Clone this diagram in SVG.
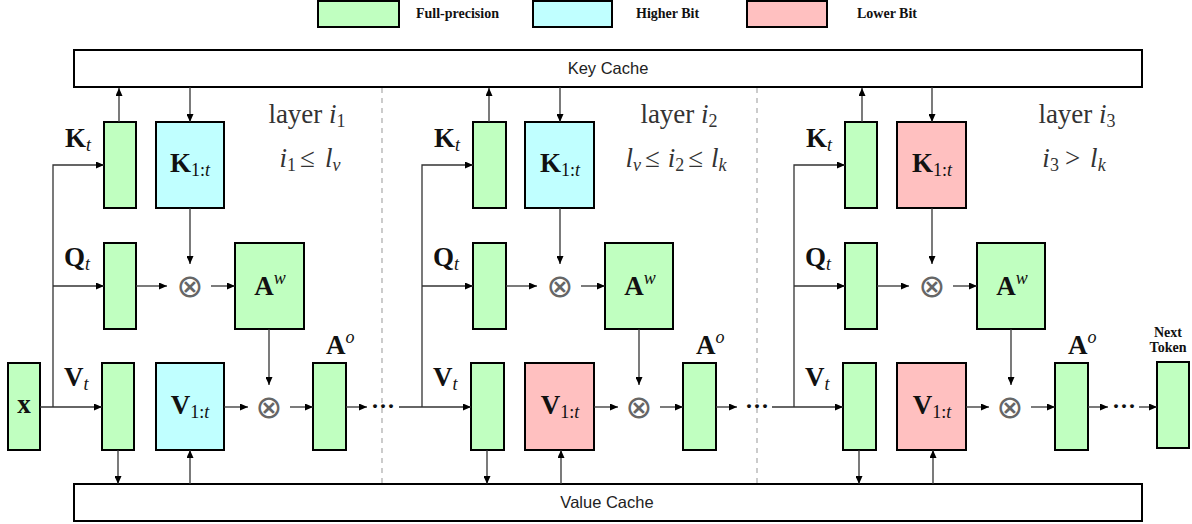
<svg xmlns="http://www.w3.org/2000/svg" width="1192" height="524" viewBox="0 0 1192 524">
<style>
.g{fill:#c0ffc0;stroke:#000;stroke-width:2}
.b{fill:#c0ffff;stroke:#000;stroke-width:2}
.r{fill:#ffc0c0;stroke:#000;stroke-width:2}
.cache{fill:#fff;stroke:#000;stroke-width:2}
.c line,.c polyline{stroke:#333;stroke-width:1.3;fill:none}
.a{marker-end:url(#ah)}
.dash{stroke:#aaa;stroke-width:1.2;stroke-dasharray:5,5}
.leg{font-family:"Liberation Serif",serif;font-weight:bold;font-size:14px;fill:#111}
.ct{font-family:"Liberation Sans",Arial,sans-serif;font-size:16.5px;fill:#222}
.m{font-family:"Liberation Serif",serif;font-weight:bold;font-size:27px;fill:#111}
.mi{font-family:"Liberation Serif",serif;font-style:italic;font-weight:normal}
.mr{font-family:"Liberation Serif",serif;font-style:normal;font-weight:normal}
.s{font-size:18px}
.lt{font-family:"Liberation Serif",serif;font-size:27px;fill:#333}
.lt .s{font-size:18px}
.op{font-family:"DejaVu Sans",sans-serif;font-size:32px;fill:#666}
.dots{font-family:"Liberation Serif",serif;font-weight:bold;font-size:24px;fill:#111}
.nt{font-family:"Liberation Serif",serif;font-weight:bold;font-size:14px;fill:#111}
</style>
<defs>
<marker id="ah" markerWidth="8" markerHeight="7" refX="8" refY="3.5" orient="auto" markerUnits="userSpaceOnUse"><path d="M0,0 L8,3.5 L0,7 z" fill="#000"/></marker>
</defs>
<rect width="1192" height="524" fill="#fff"/>

<g id="legend">
<rect class="g" x="318" y="1" width="81" height="26"/>
<text class="leg" x="416" y="18">Full-precision</text>
<rect class="b" x="533" y="1" width="79" height="26"/>
<text class="leg" x="636" y="18">Higher Bit</text>
<rect class="r" x="747" y="1" width="80" height="26"/>
<text class="leg" x="857" y="18">Lower Bit</text>
</g>

<line class="dash" x1="382" y1="88" x2="382" y2="483"/>
<line class="dash" x1="757" y1="88" x2="757" y2="483"/>

<g id="key-cache">
<rect class="cache" x="74" y="50" width="1068" height="37"/>
<text class="ct" x="608" y="74" text-anchor="middle">Key Cache</text>
</g>
<g id="value-cache">
<rect class="cache" x="74" y="484" width="1068" height="37"/>
<text class="ct" x="607" y="508" text-anchor="middle">Value Cache</text>
</g>

<g id="x">
<rect class="g" x="8" y="363" width="32" height="87"/>
<text class="m" x="24" y="413" text-anchor="middle">x</text>
</g>

<!-- layer 1 -->
<g id="l1-label">
<text class="lt" x="307" y="123" text-anchor="middle">layer <tspan class="mi">i</tspan><tspan class="s" dy="4">1</tspan></text>
<text class="lt" x="310" y="167" text-anchor="middle"><tspan class="mi">i</tspan><tspan class="s" dy="4">1</tspan><tspan dy="-4" dx="4">≤</tspan><tspan class="mi" dx="10">l</tspan><tspan class="mi s" dy="4">v</tspan></text>
</g>
<g id="l1-kt">
<rect class="g" x="104" y="122" width="32" height="86"/>
<text class="m" x="65" y="147">K<tspan class="mi s" dy="4">t</tspan></text>
</g>
<g id="l1-k1t">
<rect class="b" x="156" y="122" width="68" height="86"/>
<text class="m" x="190" y="172" text-anchor="middle">K<tspan class="mr s" dy="4">1:</tspan><tspan class="mi s">t</tspan></text>
</g>
<g id="l1-qt">
<rect class="g" x="104" y="243" width="32" height="86"/>
<text class="m" x="64" y="266">Q<tspan class="mi s" dy="4">t</tspan></text>
</g>
<g id="l1-mul1"><text class="op" x="190" y="297" text-anchor="middle">⊗</text></g>
<g id="l1-aw">
<rect class="g" x="235" y="243" width="69" height="86"/>
<text class="m" x="270" y="295" text-anchor="middle">A<tspan class="mi s" dy="-11">w</tspan></text>
</g>
<g id="l1-vt">
<rect class="g" x="102" y="363" width="32" height="87"/>
<text class="m" x="64" y="386">V<tspan class="mi s" dy="4">t</tspan></text>
</g>
<g id="l1-v1t">
<rect class="b" x="156" y="363" width="68" height="87"/>
<text class="m" x="190" y="414" text-anchor="middle">V<tspan class="mr s" dy="4">1:</tspan><tspan class="mi s">t</tspan></text>
</g>
<g id="l1-mul2"><text class="op" x="269" y="418" text-anchor="middle">⊗</text></g>
<g id="l1-ao">
<rect class="g" x="313" y="363" width="33" height="87"/>
<text class="m" x="326" y="354">A<tspan class="mi s" dy="-11">o</tspan></text>
</g>
<text class="dots" x="383" y="414" text-anchor="middle">···</text>

<!-- layer 2 -->
<g id="l2-label">
<text class="lt" x="679" y="123" text-anchor="middle">layer <tspan class="mi">i</tspan><tspan class="s" dy="4">2</tspan></text>
<text class="lt" x="676" y="167" text-anchor="middle"><tspan class="mi">l</tspan><tspan class="mi s" dy="4">v</tspan><tspan dy="-4" dx="4">≤</tspan><tspan class="mi" dx="8">i</tspan><tspan class="s" dy="4">2</tspan><tspan dy="-4" dx="4">≤</tspan><tspan class="mi" dx="8">l</tspan><tspan class="mi s" dy="4">k</tspan></text>
</g>
<g id="l2-kt">
<rect class="g" x="473" y="122" width="33" height="86"/>
<text class="m" x="434" y="147">K<tspan class="mi s" dy="4">t</tspan></text>
</g>
<g id="l2-k1t">
<rect class="b" x="525" y="122" width="69" height="86"/>
<text class="m" x="560" y="172" text-anchor="middle">K<tspan class="mr s" dy="4">1:</tspan><tspan class="mi s">t</tspan></text>
</g>
<g id="l2-qt">
<rect class="g" x="473" y="243" width="33" height="86"/>
<text class="m" x="433" y="266">Q<tspan class="mi s" dy="4">t</tspan></text>
</g>
<g id="l2-mul1"><text class="op" x="560" y="297" text-anchor="middle">⊗</text></g>
<g id="l2-aw">
<rect class="g" x="605" y="243" width="68" height="86"/>
<text class="m" x="640" y="295" text-anchor="middle">A<tspan class="mi s" dy="-11">w</tspan></text>
</g>
<g id="l2-vt">
<rect class="g" x="471" y="363" width="33" height="87"/>
<text class="m" x="433" y="386">V<tspan class="mi s" dy="4">t</tspan></text>
</g>
<g id="l2-v1t">
<rect class="r" x="525" y="363" width="69" height="87"/>
<text class="m" x="560" y="414" text-anchor="middle">V<tspan class="mr s" dy="4">1:</tspan><tspan class="mi s">t</tspan></text>
</g>
<g id="l2-mul2"><text class="op" x="639" y="418" text-anchor="middle">⊗</text></g>
<g id="l2-ao">
<rect class="g" x="683" y="363" width="33" height="87"/>
<text class="m" x="696" y="354">A<tspan class="mi s" dy="-11">o</tspan></text>
</g>
<text class="dots" x="757" y="414" text-anchor="middle">···</text>

<!-- layer 3 -->
<g id="l3-label">
<text class="lt" x="1077" y="123" text-anchor="middle">layer <tspan class="mi">i</tspan><tspan class="s" dy="4">3</tspan></text>
<text class="lt" x="1074" y="167" text-anchor="middle"><tspan class="mi">i</tspan><tspan class="s" dy="4">3</tspan><tspan dy="-4" dx="6">&gt;</tspan><tspan class="mi" dx="10">l</tspan><tspan class="mi s" dy="4">k</tspan></text>
</g>
<g id="l3-kt">
<rect class="g" x="845" y="122" width="32" height="86"/>
<text class="m" x="806" y="147">K<tspan class="mi s" dy="4">t</tspan></text>
</g>
<g id="l3-k1t">
<rect class="r" x="897" y="122" width="69" height="86"/>
<text class="m" x="932" y="172" text-anchor="middle">K<tspan class="mr s" dy="4">1:</tspan><tspan class="mi s">t</tspan></text>
</g>
<g id="l3-qt">
<rect class="g" x="845" y="243" width="32" height="86"/>
<text class="m" x="805" y="266">Q<tspan class="mi s" dy="4">t</tspan></text>
</g>
<g id="l3-mul1"><text class="op" x="932" y="297" text-anchor="middle">⊗</text></g>
<g id="l3-aw">
<rect class="g" x="977" y="243" width="68" height="86"/>
<text class="m" x="1012" y="295" text-anchor="middle">A<tspan class="mi s" dy="-11">w</tspan></text>
</g>
<g id="l3-vt">
<rect class="g" x="843" y="363" width="33" height="87"/>
<text class="m" x="805" y="386">V<tspan class="mi s" dy="4">t</tspan></text>
</g>
<g id="l3-v1t">
<rect class="r" x="897" y="363" width="69" height="87"/>
<text class="m" x="932" y="414" text-anchor="middle">V<tspan class="mr s" dy="4">1:</tspan><tspan class="mi s">t</tspan></text>
</g>
<g id="l3-mul2"><text class="op" x="1010" y="418" text-anchor="middle">⊗</text></g>
<g id="l3-ao">
<rect class="g" x="1055" y="363" width="33" height="87"/>
<text class="m" x="1068" y="354">A<tspan class="mi s" dy="-11">o</tspan></text>
</g>
<text class="dots" x="1124" y="414" text-anchor="middle">···</text>

<g id="next-token">
<rect class="g" x="1157" y="362" width="32" height="86"/>
<text class="nt" x="1168" y="337" text-anchor="middle">Next</text>
<text class="nt" x="1168" y="352" text-anchor="middle">Token</text>
</g>

<g id="connectors" class="c">
<!-- layer 1 -->
<line class="a" x1="40" y1="407" x2="102" y2="407"/>
<polyline class="a" points="53,407 53,165 104,165"/>
<line class="a" x1="53" y1="286" x2="104" y2="286"/>
<line class="a" x1="119" y1="122" x2="119" y2="88"/>
<line class="a" x1="190" y1="87" x2="190" y2="122"/>
<line class="a" x1="190" y1="208" x2="190" y2="264"/>
<line class="a" x1="136" y1="286" x2="167" y2="286"/>
<line class="a" x1="211" y1="286" x2="235" y2="286"/>
<line class="a" x1="269" y1="329" x2="269" y2="385"/>
<line class="a" x1="224" y1="407" x2="248" y2="407"/>
<line class="a" x1="290" y1="407" x2="313" y2="407"/>
<line class="a" x1="346" y1="407" x2="367" y2="407"/>
<line class="a" x1="118" y1="450" x2="118" y2="484"/>
<line class="a" x1="190" y1="484" x2="190" y2="450"/>
<!-- layer 2 -->
<line class="a" x1="399" y1="407" x2="471" y2="407"/>
<polyline class="a" points="422,407 422,165 473,165"/>
<line class="a" x1="422" y1="286" x2="473" y2="286"/>
<line class="a" x1="489" y1="122" x2="489" y2="88"/>
<line class="a" x1="560" y1="87" x2="560" y2="122"/>
<line class="a" x1="560" y1="208" x2="560" y2="264"/>
<line class="a" x1="506" y1="286" x2="537" y2="286"/>
<line class="a" x1="581" y1="286" x2="605" y2="286"/>
<line class="a" x1="639" y1="329" x2="639" y2="385"/>
<line class="a" x1="594" y1="407" x2="618" y2="407"/>
<line class="a" x1="660" y1="407" x2="683" y2="407"/>
<line class="a" x1="716" y1="407" x2="737" y2="407"/>
<line class="a" x1="487" y1="450" x2="487" y2="484"/>
<line class="a" x1="561" y1="484" x2="561" y2="450"/>
<!-- layer 3 -->
<line class="a" x1="772" y1="407" x2="843" y2="407"/>
<polyline class="a" points="794,407 794,165 845,165"/>
<line class="a" x1="794" y1="286" x2="845" y2="286"/>
<line class="a" x1="862" y1="122" x2="862" y2="88"/>
<line class="a" x1="932" y1="87" x2="932" y2="122"/>
<line class="a" x1="932" y1="208" x2="932" y2="264"/>
<line class="a" x1="877" y1="286" x2="909" y2="286"/>
<line class="a" x1="953" y1="286" x2="977" y2="286"/>
<line class="a" x1="1011" y1="329" x2="1011" y2="385"/>
<line class="a" x1="966" y1="407" x2="989" y2="407"/>
<line class="a" x1="1031" y1="407" x2="1055" y2="407"/>
<line class="a" x1="1088" y1="407" x2="1108" y2="407"/>
<line class="a" x1="1139" y1="407" x2="1157" y2="407"/>
<line class="a" x1="859" y1="450" x2="859" y2="484"/>
<line class="a" x1="933" y1="484" x2="933" y2="450"/>
</g>
</svg>
